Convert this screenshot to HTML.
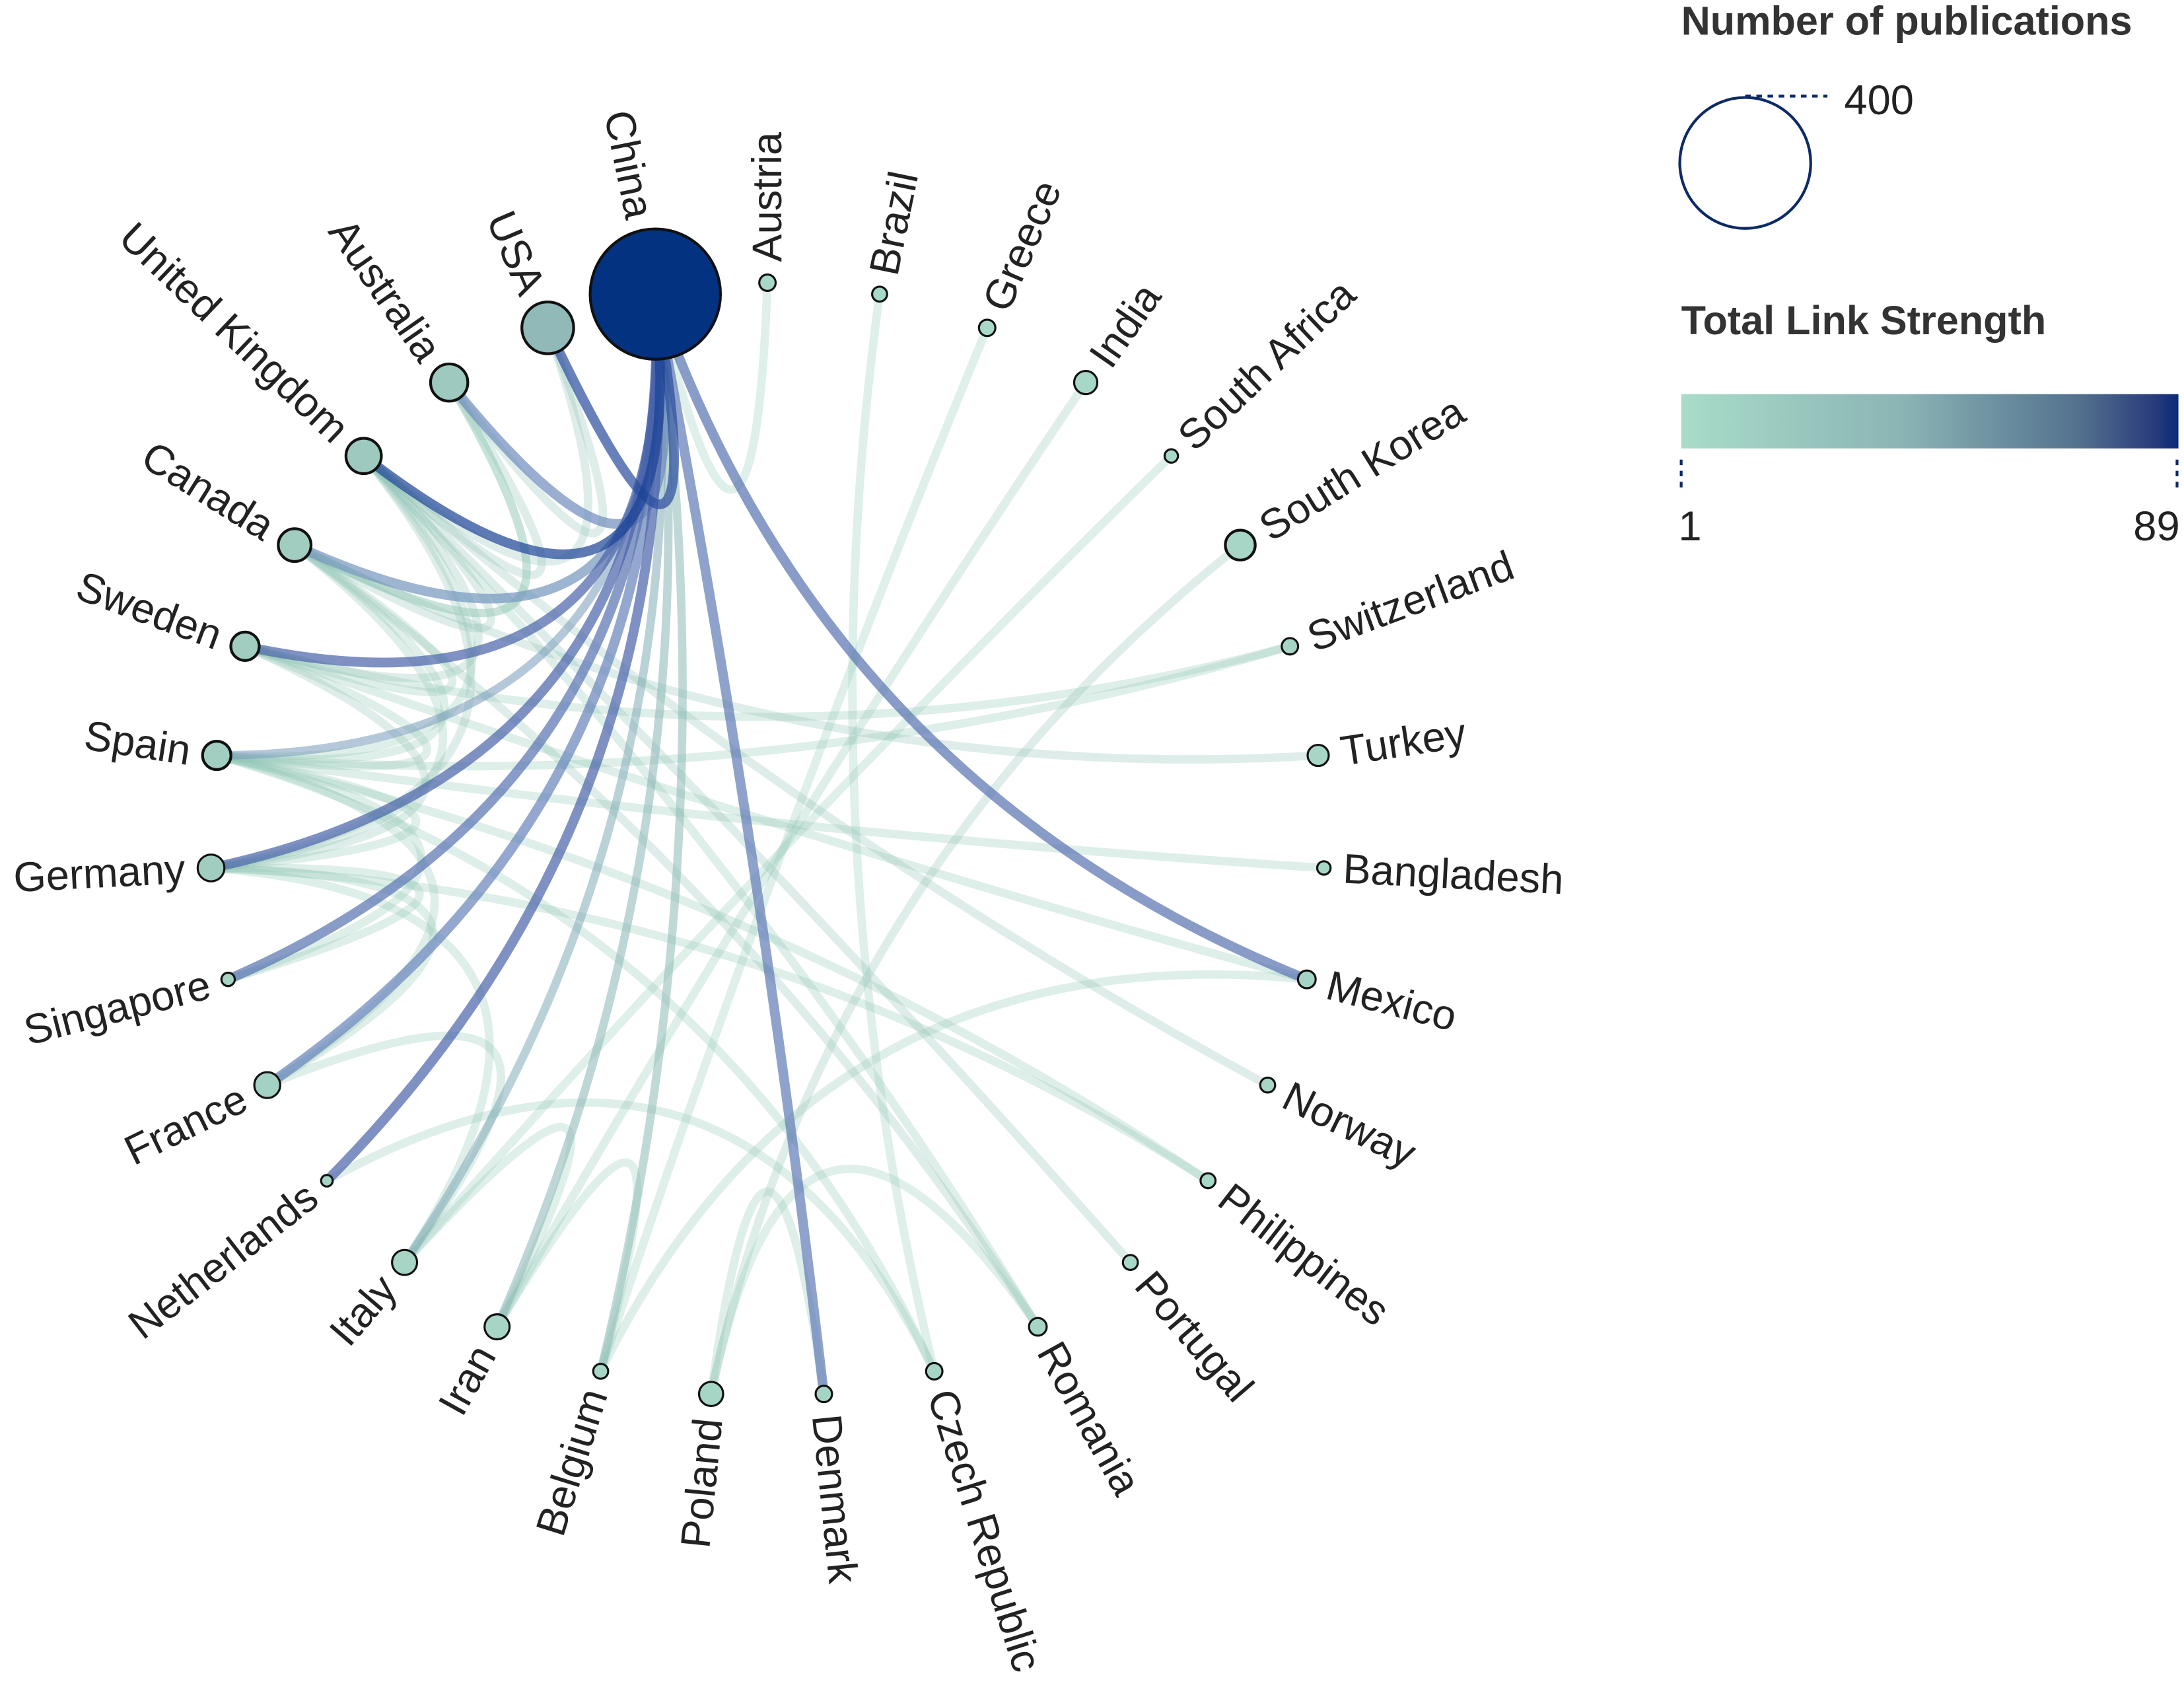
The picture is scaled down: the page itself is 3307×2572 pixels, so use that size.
<!DOCTYPE html>
<html><head><meta charset="utf-8"><style>
html,body{margin:0;padding:0;background:#fff;}
svg{display:block;}
</style></head><body>
<svg id="chart" width="3307" height="2572" viewBox="0 0 1568 1220" preserveAspectRatio="none" xmlns="http://www.w3.org/2000/svg" font-family="'Liberation Sans', sans-serif">
<defs>
<linearGradient id="grad" x1="0" x2="1" y1="0" y2="0">
<stop offset="0" stop-color="#a9dcc9"/><stop offset="0.45" stop-color="#8ab4b4"/><stop offset="0.8" stop-color="#53718f"/><stop offset="0.95" stop-color="#2a3c7c"/><stop offset="1" stop-color="#0a2a78"/>
</linearGradient>
</defs>
<g id="links"></g>
<g id="nodes"></g>
<g id="labels"></g>
<g>
<text x="1207" y="25" font-size="29" font-weight="bold" fill="#333">Number of publications</text>
<circle cx="1253" cy="117" r="47" fill="none" stroke="#0c2a66" stroke-width="2"/>
<line x1="1253" y1="69" x2="1312" y2="69" stroke="#0c2a66" stroke-width="2" stroke-dasharray="4,4"/>
<text x="1324" y="82" font-size="30" fill="#222">400</text>
<text x="1207" y="240" font-size="29" font-weight="bold" fill="#333">Total Link Strength</text>
<rect x="1207" y="283" width="357" height="39" fill="url(#grad)"/>
<line x1="1207" y1="330" x2="1207" y2="352" stroke="#0c2a66" stroke-width="2" stroke-dasharray="4,4"/>
<line x1="1563" y1="330" x2="1563" y2="352" stroke="#0c2a66" stroke-width="2" stroke-dasharray="4,4"/>
<text x="1205" y="388" font-size="30" fill="#222">1</text>
<text x="1565" y="388" font-size="30" fill="#222" text-anchor="end">89</text>
</g>
</svg>
<script>
const countries=["Austria","Brazil","Greece","India","South Africa","South Korea","Switzerland","Turkey","Bangladesh","Mexico","Norway","Philippines","Portugal","Romania","Czech Republic","Denmark","Poland","Belgium","Iran","Italy","Netherlands","France","Singapore","Germany","Spain","Sweden","Canada","United Kingdom","Australia","USA","China"];
const publications=[6,5,6,12,4,20,6,10,4,7,5,5,5,7,6,6,13,5,14,14,3,15,4,16,18,18,24,28,31,60,380];
const linkStrength=[3,3,3,4,2,5,6,5,4,8,5,4,4,6,6,7,6,5,6,6,8,10,8,14,13,14,14,18,18,35,89];
const linkSource=["China","China","China","China","China","China","China","China","China","China","China","China","China","China","China","China","USA","USA","Australia","Australia","United Kingdom","United Kingdom","United Kingdom","United Kingdom","United Kingdom","United Kingdom","Canada","Canada","Canada","Canada","Sweden","Sweden","Sweden","Spain","Spain","Spain","Spain","Spain","Germany","Germany","Germany","Brazil","Greece","India","South Africa","South Korea","Poland","Poland","Belgium","France","Italy","Iran","Australia","Canada","Germany","Sweden","Spain","Switzerland","Netherlands","United Kingdom"];
const linkTarget=["USA","Australia","United Kingdom","Canada","Sweden","Spain","Germany","Singapore","France","Netherlands","Italy","Iran","Belgium","Denmark","Mexico","Austria","Australia","United Kingdom","United Kingdom","Canada","Canada","Sweden","Spain","Germany","Norway","Portugal","Spain","Turkey","Romania","Sweden","Spain","Switzerland","Germany","Germany","Bangladesh","Czech Republic","Singapore","France","France","Singapore","Philippines","Czech Republic","Belgium","Iran","Italy","Poland","Denmark","Romania","Mexico","Italy","Iran","Belgium","Canada","Germany","Italy","Mexico","Philippines","Spain","Czech Republic","Romania"];
const linkWeight=[70,25,80,22,50,20,50,40,30,50,15,12,10,35,40,3,5,6,5,4,6,5,4,6,5,5,4,5,5,4,4,4,5,4,4,4,4,4,4,4,4,3,3,4,3,5,4,3,4,4,3,3,4,4,4,4,4,4,4,4];

const NS="http://www.w3.org/2000/svg";
const CX=551,CY=603,R=400;
const N=countries.length;
function angleOf(i){return (-90+i*360/N)*Math.PI/180;}
function posOf(i){const a=angleOf(i);return [CX+R*Math.cos(a),CY+R*Math.sin(a)];}
function radiusOf(p){return 48*Math.sqrt(p/400);}
function interp(st,t){t=Math.max(0,Math.min(1,t));for(let k=1;k<st.length;k++){if(t<=st[k][0]){const a=st[k-1],b=st[k];const u=(t-a[0])/(b[0]-a[0]);const c=a[1].map((x,j)=>Math.round(x+(b[1][j]-x)*u));return "rgb("+c.join(",")+")";}}const l=st[st.length-1][1];return "rgb("+l.join(",")+")";}
const nodeStops=[[0,[169,218,200]],[0.2,[158,200,190]],[0.45,[140,180,180]],[0.8,[78,111,146]],[0.95,[20,50,125]],[1,[3,50,128]]];
const linkStops=[[0,[150,205,185]],[0.12,[140,185,180]],[0.3,[110,140,190]],[0.6,[75,100,170]],[1,[25,65,150]]];
function nodeColor(v){return interp(nodeStops,(v-1)/88);}
function linkColor(w){return interp(linkStops,(w-1)/79);}
const gL=document.getElementById("links"),gN=document.getElementById("nodes"),gT=document.getElementById("labels");
const order=linkWeight.map((w,i)=>i).sort((a,b)=>linkWeight[a]-linkWeight[b]);
for(const i of order){
  const s=countries.indexOf(linkSource[i]),t=countries.indexOf(linkTarget[i]);
  if(s<0||t<0)continue;
  const p=posOf(s),q=posOf(t);
  const mx=(p[0]+q[0])/2,my=(p[1]+q[1])/2,k=0.27;
  const cx=CX+(mx-CX)*k,cy=CY+(my-CY)*k;
  const w=linkWeight[i];
  const path=document.createElementNS(NS,"path");
  path.setAttribute("d",`M${p[0]},${p[1]} Q${cx},${cy} ${q[0]},${q[1]}`);
  path.setAttribute("fill","none");
  path.setAttribute("stroke",linkColor(w));
  path.setAttribute("stroke-width",w>20?7:6);
  path.setAttribute("stroke-opacity",w>20?0.7:(w>8?0.55:0.3));
  
  
  gL.appendChild(path);
}
for(let i=0;i<N;i++){
  const p=posOf(i),r=radiusOf(publications[i]);
  const c=document.createElementNS(NS,"circle");
  c.setAttribute("cx",p[0]);c.setAttribute("cy",p[1]);c.setAttribute("r",Math.max(r,3.5));
  c.setAttribute("fill",nodeColor(linkStrength[i]));
  c.setAttribute("stroke","#111");c.setAttribute("stroke-width",r>10?2:1.5);
  
  
  gN.appendChild(c);
  const a=angleOf(i),deg=a*180/Math.PI,d=Math.max(r,3.5)+9;
  const lx=CX+(R+d)*Math.cos(a),ly=CY+(R+d)*Math.sin(a);
  const tx=document.createElementNS(NS,"text");
  const left=Math.cos(a)<-0.001;
  tx.setAttribute("x",lx);tx.setAttribute("y",ly);
  tx.setAttribute("font-size","30");tx.setAttribute("fill","#222");
  tx.setAttribute("dominant-baseline","central");
  if(left){tx.setAttribute("text-anchor","end");tx.setAttribute("transform",`rotate(${deg+180} ${lx} ${ly})`);}
  else{tx.setAttribute("text-anchor","start");tx.setAttribute("transform",`rotate(${deg} ${lx} ${ly})`);}
  tx.textContent=countries[i];
  
  
  gT.appendChild(tx);
}
</script>
</body></html>
